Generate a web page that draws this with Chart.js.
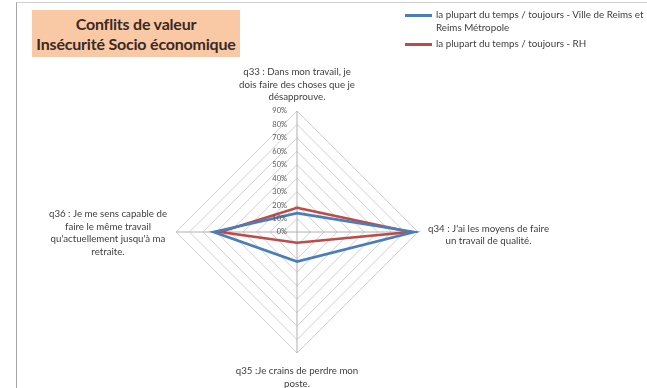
<!DOCTYPE html>
<html>
<head>
<meta charset="utf-8">
<script src="https://cdn.jsdelivr.net/npm/chart.js@4"></script>
<style>
  html, body { margin: 0; padding: 0; background: #fff; overflow: hidden; }
  #wrap { position: relative; width: 647px; height: 388px; overflow: hidden; font-family: Lato, "Open Sans", sans-serif; }
  #frame { position: absolute; left: 16px; top: 2px; width: 700px; height: 450px; border-left: 1px solid #a6a6a6; border-top: 1px solid #cfcfcf; box-sizing: border-box; }
  #titleBox { position: absolute; left: 32px; top: 10px; width: 208px; height: 47px; background: #f9c9a6; color: #3b2a24; font-weight: bold; font-size: 16px; line-height: 20px; text-align: center; padding-top: 4px; box-sizing: border-box; letter-spacing: -0.2px; }
  canvas { position: absolute; left: 0; top: 0; }
  .lg { position: absolute; font-size: 9.8px; color: #404040; line-height: 13px; white-space: normal; }
  .lgLine { position: absolute; width: 27px; height: 3px; }
</style>
</head>
<body>
<div id="wrap">
  <div id="frame"></div>
  <canvas id="c" width="647" height="388"></canvas>
  <div id="titleBox"></div>
  <div id="legend"></div>
</div>
<script>
const titleLines = ["Conflits de valeur", "Insécurité Socio économique"];
const categories = [
  ["q33 : Dans mon travail, je", "dois faire des choses que je", "désapprouve."],
  ["q34 : J'ai les moyens de faire", "un travail de qualité."],
  ["q35 :Je crains de perdre mon", "poste."],
  ["q36 : Je me sens capable de", "faire le même travail", "qu'actuellement jusqu'à ma", "retraite."]
];
const seriesNames = [
  "la plupart du temps / toujours - Ville de Reims et Reims Métropole",
  "la plupart du temps / toujours - RH"
];
const seriesColors = ["#4a7ebb", "#be4b48"];
const villeValues = [14, 87, 22, 62];
const rhValues = [18, 84, 8, 57];
const tickValues = [0, 10, 20, 30, 40, 50, 60, 70, 80, 90];
const tickLabels = ["0%", "10%", "20%", "30%", "40%", "50%", "60%", "70%", "80%", "90%"];

document.getElementById('titleBox').innerHTML = titleLines.join('<br>');

const legend = document.getElementById('legend');
const legendTops = [8, 37];
seriesNames.forEach((name, i) => {
  const line = document.createElement('div');
  line.className = 'lgLine';
  line.style.left = '405px';
  line.style.top = (legendTops[i] + 6) + 'px';
  line.style.background = seriesColors[i];
  legend.appendChild(line);
  const t = document.createElement('div');
  t.className = 'lg';
  t.style.left = '436px';
  t.style.top = legendTops[i] + 'px';
  t.style.width = '214px';
  t.textContent = name;
  legend.appendChild(t);
});

const labelPlugin = {
  id: 'customLabels',
  afterDraw(chart) {
    const scale = chart.scales.r;
    const ctx = chart.ctx;
    ctx.save();
    // tick labels
    ctx.font = '7.5px Lato';
    ctx.fillStyle = '#595959';
    ctx.textAlign = 'right';
    ctx.textBaseline = 'middle';
    tickValues.forEach((v, i) => {
      const d = scale.getDistanceFromCenterForValue(v);
      ctx.fillText(tickLabels[i], scale.xCenter - 10, scale.yCenter - d);
    });
    // point labels
    ctx.font = '9.7px Lato';
    ctx.fillStyle = '#404040';
    ctx.textAlign = 'center';
    const lh = 12.5;
    categories.forEach((lines, i) => {
      const p = scale.getPointPositionForValue(i, scale.max);
      const n = lines.length;
      const w = Math.max(...lines.map(l => ctx.measureText(l).width));
      let cx, cy;
      if (i === 0) { cx = p.x; cy = p.y - 14 - (n - 1) * lh / 2; }
      else if (i === 1) { cx = p.x + 10 + w / 2; cy = p.y + 3; }
      else if (i === 2) { cx = p.x; cy = p.y + 18 + (n - 1) * lh / 2; }
      else { cx = p.x - 9 - w / 2; cy = p.y + 1; }
      lines.forEach((l, k) => {
        ctx.fillText(l, cx, cy + (k - (n - 1) / 2) * lh);
      });
    });
    ctx.restore();
  }
};

new Chart(document.getElementById('c'), {
  type: 'radar',
  data: {
    labels: categories,
    datasets: [
      { label: seriesNames[0], data: villeValues, borderColor: seriesColors[0], backgroundColor: 'transparent', borderWidth: 2.7, pointRadius: 0, fill: false },
      { label: seriesNames[1], data: rhValues, borderColor: seriesColors[1], backgroundColor: 'transparent', borderWidth: 2.7, pointRadius: 0, fill: false }
    ]
  },
  options: {
    responsive: false,
    animation: false,
    devicePixelRatio: 1,
    layout: { padding: { left: 176, right: 229, top: 111, bottom: 35 } },
    plugins: { legend: { display: false }, tooltip: { enabled: false }, title: { display: false } },
    scales: {
      r: {
        min: 0, max: 90,
        ticks: { display: false, stepSize: 10 },
        pointLabels: { display: false },
        grid: { color: '#d0d0d0', lineWidth: 1 },
        angleLines: { color: '#b0b0b0', lineWidth: 1 }
      }
    }
  },
  plugins: [labelPlugin]
});
</script>
</body>
</html>
